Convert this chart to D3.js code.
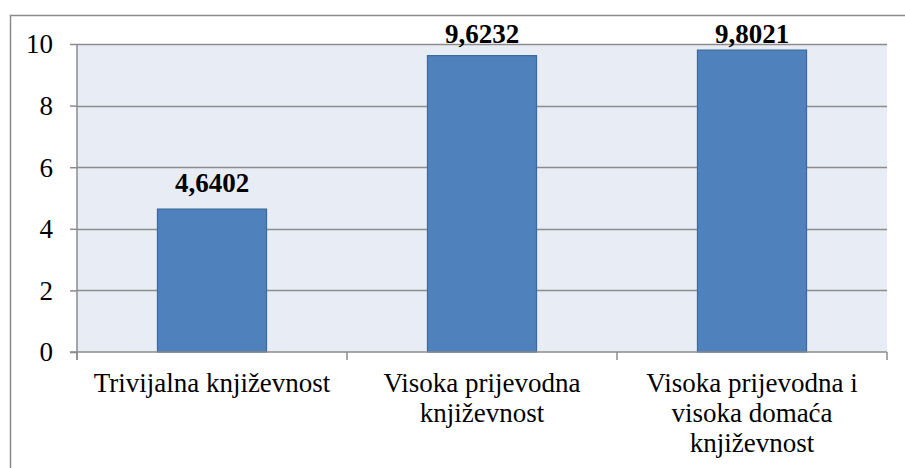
<!DOCTYPE html>
<html>
<head>
<meta charset="utf-8">
<script src="https://cdn.jsdelivr.net/npm/d3@7"></script>
<style>
  html, body { margin: 0; padding: 0; background: #fff; }
  svg { display: block; }
</style>
</head>
<body>
<svg id="chart" width="905" height="468"></svg>
<script>
// Chart data
const categories = [
  ["Trivijalna književnost"],
  ["Visoka prijevodna", "književnost"],
  ["Visoka prijevodna i", "visoka domaća", "književnost"]
];
const values = [4.6402, 9.6232, 9.8021];
const valueLabels = ["4,6402", "9,6232", "9,8021"];
const yTicks = [0, 2, 4, 6, 8, 10];

const svg = d3.select("#chart");
const W = 905, H = 468;
const plot = { left: 77, right: 887, top: 44, bottom: 352 };
const FONT = "'Liberation Serif', 'Times New Roman', serif";
const FS = "27px";

// Outer chart frame (only top and left edges fall inside the view)
svg.append("path")
  .attr("d", `M10.5,${H} V15.5 H${W}`)
  .attr("fill", "none")
  .attr("stroke", "#8a8a8a")
  .attr("stroke-width", 1.5);

const x = d3.scaleBand()
  .domain(d3.range(categories.length))
  .range([plot.left, plot.right])
  .paddingInner(0.596)
  .paddingOuter(0.298);

const y = d3.scaleLinear().domain([0, 10]).range([plot.bottom, plot.top]);

// Plot background
svg.append("rect")
  .attr("x", plot.left).attr("y", plot.top)
  .attr("width", plot.right - plot.left).attr("height", plot.bottom - plot.top)
  .attr("fill", "#e8ecf4");

// Horizontal gridlines
svg.append("g")
  .selectAll("line")
  .data(yTicks.filter(d => d > 0))
  .join("line")
  .attr("x1", plot.left).attr("x2", plot.right)
  .attr("y1", d => Math.round(y(d)) + 0.5).attr("y2", d => Math.round(y(d)) + 0.5)
  .attr("stroke", "#8c8c8c")
  .attr("stroke-width", 1.5);

// Bars
svg.append("g")
  .selectAll("rect")
  .data(values)
  .join("rect")
  .attr("x", (d, i) => x(i))
  .attr("y", d => y(d))
  .attr("width", x.bandwidth())
  .attr("height", d => y(0) - y(d))
  .attr("fill", "#4f81bd")
  .attr("stroke", "#3c6a9e")
  .attr("stroke-width", 1.2);

// Value labels above bars
svg.append("g")
  .selectAll("text")
  .data(values)
  .join("text")
  .attr("x", (d, i) => x(i) + x.bandwidth() / 2)
  .attr("y", d => Math.max(y(d) - 17, 43))
  .attr("text-anchor", "middle")
  .style("font-family", FONT)
  .style("font-weight", "bold")
  .style("font-size", FS)
  .attr("fill", "#000")
  .text((d, i) => valueLabels[i]);

// Y axis
const yAxis = svg.append("g")
  .attr("transform", `translate(${plot.left},0)`)
  .call(d3.axisLeft(y).tickValues(yTicks).tickSize(7).tickPadding(17).tickFormat(d3.format("d")));
yAxis.attr("font-family", null).attr("font-size", null);
yAxis.select(".domain").attr("d", `M0,${plot.top}V${plot.bottom + 8}`).attr("stroke", "#8c8c8c").attr("stroke-width", 1.5);
yAxis.selectAll(".tick line").attr("stroke", "#8c8c8c").attr("stroke-width", 1.5);
yAxis.selectAll(".tick text")
  .style("font-family", FONT)
  .style("font-size", FS)
  .attr("fill", "#000")
  .attr("dy", "0.33em");

// X axis line and category boundary ticks
const xAxis = svg.append("g");
xAxis.append("line")
  .attr("x1", plot.left - 7).attr("x2", plot.right)
  .attr("y1", plot.bottom).attr("y2", plot.bottom)
  .attr("stroke", "#8c8c8c").attr("stroke-width", 1.5);
xAxis.selectAll("line.b")
  .data(d3.range(categories.length + 1))
  .join("line")
  .attr("class", "b")
  .attr("x1", i => plot.left + i * (plot.right - plot.left) / categories.length)
  .attr("x2", i => plot.left + i * (plot.right - plot.left) / categories.length)
  .attr("y1", plot.bottom).attr("y2", plot.bottom + 8)
  .attr("stroke", "#8c8c8c").attr("stroke-width", 1.5);

// Category labels (wrapped lines)
const catG = svg.append("g")
  .selectAll("text")
  .data(categories)
  .join("text")
  .attr("x", (d, i) => x(i) + x.bandwidth() / 2)
  .attr("y", 392)
  .attr("text-anchor", "middle")
  .style("font-family", FONT)
  .style("font-size", FS)
  .attr("fill", "#000");
catG.selectAll("tspan")
  .data(d => d)
  .join("tspan")
  .attr("x", function () { return this.parentNode.getAttribute("x"); })
  .attr("dy", (d, j) => j === 0 ? 0 : 30)
  .text(d => d);
</script>
</body>
</html>
